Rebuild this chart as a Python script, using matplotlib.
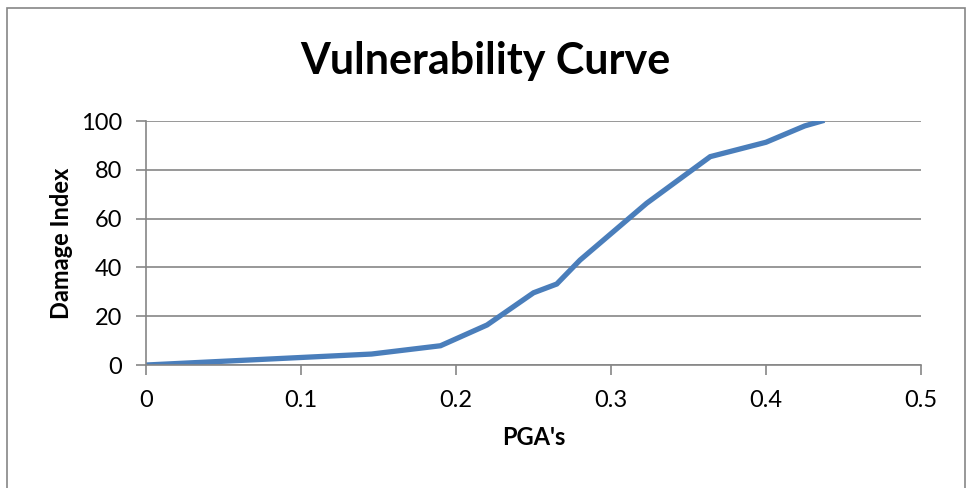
import matplotlib.pyplot as plt
from matplotlib.patches import Rectangle

# Datos
pga = [0.0, 0.1455, 0.19, 0.22, 0.25, 0.265, 0.28, 0.323, 0.364, 0.40, 0.425, 0.436]
damage = [0.0, 4.5, 7.9, 16.4, 29.6, 33.2, 43.0, 66.3, 85.4, 91.3, 98.0, 100.0]

x_ticks = [0, 0.1, 0.2, 0.3, 0.4, 0.5]
x_labels = ['0', '0.1', '0.2', '0.3', '0.4', '0.5']
y_ticks = [0, 20, 40, 60, 80, 100]

plt.rcParams['font.family'] = ['Lato', 'DejaVu Sans']
grey = '#868686'

fig = plt.figure(figsize=(9.7, 4.88), dpi=100)
fig.patches.append(Rectangle((0.007, -0.05), 0.988, 1.033, transform=fig.transFigure,
                             fill=False, edgecolor=grey, linewidth=1.2))

ax = fig.add_axes([0.1505, 0.252, 0.799, 0.5])
ax.plot(pga, damage, color='#4A7EBB', linewidth=3.8, solid_joinstyle='miter')

ax.set_xlim(0, 0.5)
ax.set_ylim(0, 100)
ax.set_xticks(x_ticks)
ax.set_xticklabels(x_labels)
ax.set_yticks(y_ticks)
ax.yaxis.grid(True, color=grey, linewidth=1.2)
ax.set_axisbelow(True)
for side in ['top', 'right']:
    ax.spines[side].set_visible(False)
for side in ['left', 'bottom']:
    ax.spines[side].set_color(grey)
    ax.spines[side].set_linewidth(1.2)
ax.tick_params(axis='both', colors=grey, length=7, width=1.2, labelsize=17,
               labelcolor='black')
ax.tick_params(axis='y', pad=10)
ax.tick_params(axis='x', pad=11)

ax.set_xlabel("PGA's", fontsize=17, fontweight='bold', labelpad=11)
ax.set_ylabel('Damage Index', fontsize=17, fontweight='bold', labelpad=6)
fig.text(0.5, 0.876, 'Vulnerability Curve', ha='center', va='center',
         fontsize=31, fontweight='bold')

plt.savefig('out.png', dpi=100)
